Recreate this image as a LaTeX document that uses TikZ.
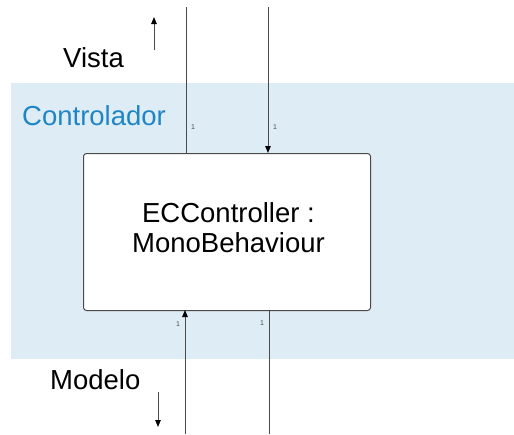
\documentclass[tikz,border=0pt]{standalone}
\usepackage{fontspec}
\setmainfont{Liberation Sans}
\usetikzlibrary{arrows.meta}
\definecolor{bandblue}{HTML}{DEECF6}
\definecolor{ctrlblue}{HTML}{1F86C6}
\definecolor{linegray}{HTML}{4A4A4A}
\tikzset{
  big/.style={font=\fontsize{27.5}{30}\selectfont, inner sep=0pt},
  tiny/.style={font=\fontsize{7}{8}\selectfont, inner sep=0pt, text=linegray},
  conn/.style={draw=linegray, line width=0.9pt},
  tip/.style={-{Triangle[length=7pt,width=5.5pt,color=black]}},
  classbox/.style={draw=linegray, line width=1pt, rounded corners=3pt, fill=white}
}
\begin{document}
\begin{tikzpicture}[x=1pt,y=-1pt]
\useasboundingbox (0,0) rectangle (514,434);
\fill[bandblue] (11,83) rectangle (514,359);
\node[classbox, minimum width=287pt, minimum height=157pt, anchor=north west] (box) at (83,153) {};
\node[big, align=center] (boxtext) at (228.5,228) {ECController :\\[0pt]MonoBehaviour};
\node[big, anchor=base west] (vista) at (63,67) {Vista};
\node[big, anchor=base west, text=ctrlblue] (ctrl) at (22,125) {Controlador};
\node[big, anchor=base west] (modelo) at (50,389) {Modelo};
% connector ends
\coordinate (t1) at (186,7);
\coordinate (t2) at (268,7);
\coordinate (b1) at (185,434);
\coordinate (b2) at (269,434);
\coordinate (bt1) at (186,153);
\coordinate (bt2) at (268,153);
\coordinate (bb1) at (185,310);
\coordinate (bb2) at (269,310);
\draw[conn] (t1) -- (bt1);
\draw[conn, tip] (t2) -- (bt2);
\draw[conn, tip] (b1) -- (bb1);
\draw[conn] (b2) -- (bb2);
\node[tiny] (l1) at (193,127) {1};
\node[tiny] (l2) at (275,127) {1};
\node[tiny] (l3) at (178,324) {1};
\node[tiny] (l4) at (262,323) {1};
% direction arrows
\coordinate (ua) at (154,50);
\coordinate (ub) at (154,17);
\coordinate (da) at (158,392);
\coordinate (db) at (158,427);
\draw[conn, tip] (ua) -- (ub);
\draw[conn, tip] (da) -- (db);
\end{tikzpicture}
\end{document}
